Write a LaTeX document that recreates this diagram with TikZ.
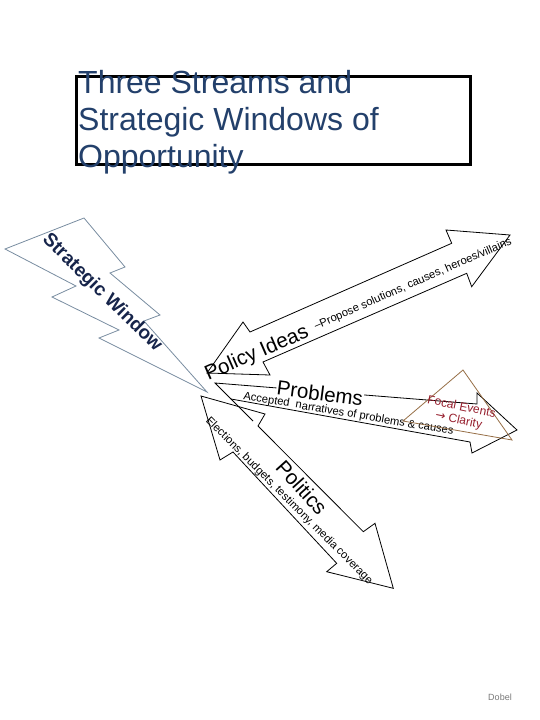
\documentclass[tikz,border=0pt]{standalone}
\usepackage{fontspec}
\setmainfont{Liberation Sans}
\newfontfamily\djv{DejaVu Sans}
\definecolor{titleblue}{RGB}{35,64,107}
\definecolor{boltnavy}{RGB}{22,36,74}
\definecolor{boltgray}{RGB}{120,140,160}
\definecolor{focalbrown}{RGB}{150,110,70}
\definecolor{focalred}{RGB}{150,30,45}
\definecolor{dobelgray}{RGB}{120,120,120}
\begin{document}
\begin{tikzpicture}[x=1pt,y=-1pt,
  shapeline/.style={draw=black, line width=0.8pt, line join=miter},
  boltline/.style={draw=boltgray, line width=0.8pt, line join=miter},
  focalline/.style={draw=focalbrown, line width=0.8pt, line join=miter},
  titletext/.style={text=titleblue, inner sep=0pt, anchor=base west, font=\fontsize{32}{37}\selectfont},
  smalltext/.style={inner sep=0pt, font=\fontsize{11.2}{13}\selectfont},
  bigtext/.style={inner sep=0pt, font=\fontsize{20.5}{24}\selectfont}]
\useasboundingbox (0,0) rectangle (540,720);

% title
\node[draw=black, line width=3pt, minimum width=394pt, minimum height=88pt, inner sep=0pt, anchor=north west] (titlebox) at (75,75) {};
\node[titletext] (title1) at (78,93.3) {Three Streams and};
\node[titletext] (title2) at (78,130.5) {Strategic Windows of};
\node[titletext] (title3) at (78,167.5) {Opportunity};

% strategic window bolt
\draw[boltline] (5,249) -- (84,218) -- (125,267) -- (110,273) -- (160,315) -- (144,321)
  -- (207,392) -- (99,338) -- (119,330) -- (52,297) -- (76,286) -- cycle;
\node[inner sep=0pt, rotate=-44.5, text=boltnavy, font=\bfseries\fontsize{19}{20}\selectfont] (swtext) at (102,293) {Strategic Window};

% policy ideas double arrow
\draw[shapeline] (207,373) -- (243,322) -- (250,332) -- (451.7,243.3) -- (446,230) -- (510,235)
  -- (471.7,286.7) -- (466.7,273.3) -- (263,362) -- (270,375) -- cycle;
\node[bigtext, rotate=23.5, anchor=base] (policy) at (259,358.5) {Policy Ideas};
\node[smalltext, rotate=23.6] (propose) at (413,284) {–Propose solutions, causes, heroes/villains};

% problems arrow
\coordinate (pA) at (215,383);
\coordinate (pG) at (231,399);
\draw[shapeline] (pA) -- (477,404) -- (477,393) -- (517,430) -- (472,453) -- (470,442) -- (pG) -- cycle;
\draw[shapeline] (pG) -- (253,421);
\node[bigtext, rotate=-7.5, anchor=base, fill=white, inner sep=0.5pt] (problems) at (319,400.5) {Problems};
\node[smalltext, rotate=-9.7, anchor=base] (accepted) at (348,417) {Accepted~ narratives of problems \& causes};

% focal events
\draw[focalline] (463,370) -- (403,421) -- (512,440) -- cycle;
\node[inner sep=0pt, rotate=-12, align=center, text=focalred, font=\fontsize{12}{13.5}\selectfont] (focal) at (460,414) {Focal Events\\{\djv →} Clarity};

% politics double arrow
\draw[shapeline] (201,396) -- (265,414) -- (258,426) -- (363.3,531.7) -- (375,523.3) -- (393.3,588.3)
  -- (326.7,571.7) -- (336.7,563.3) -- (233,452) -- (220,460) -- cycle;
\node[bigtext, rotate=-48] (politics) at (301.7,487.3) {Politics};
\node[smalltext, rotate=-45, anchor=base] (elections) at (287,503) {Elections, budgets, testimony, media coverage};

% author
\node[inner sep=0pt, anchor=base, text=dobelgray, font=\fontsize{9}{10}\selectfont] (dobel) at (500,700) {Dobel};
\end{tikzpicture}
\end{document}
